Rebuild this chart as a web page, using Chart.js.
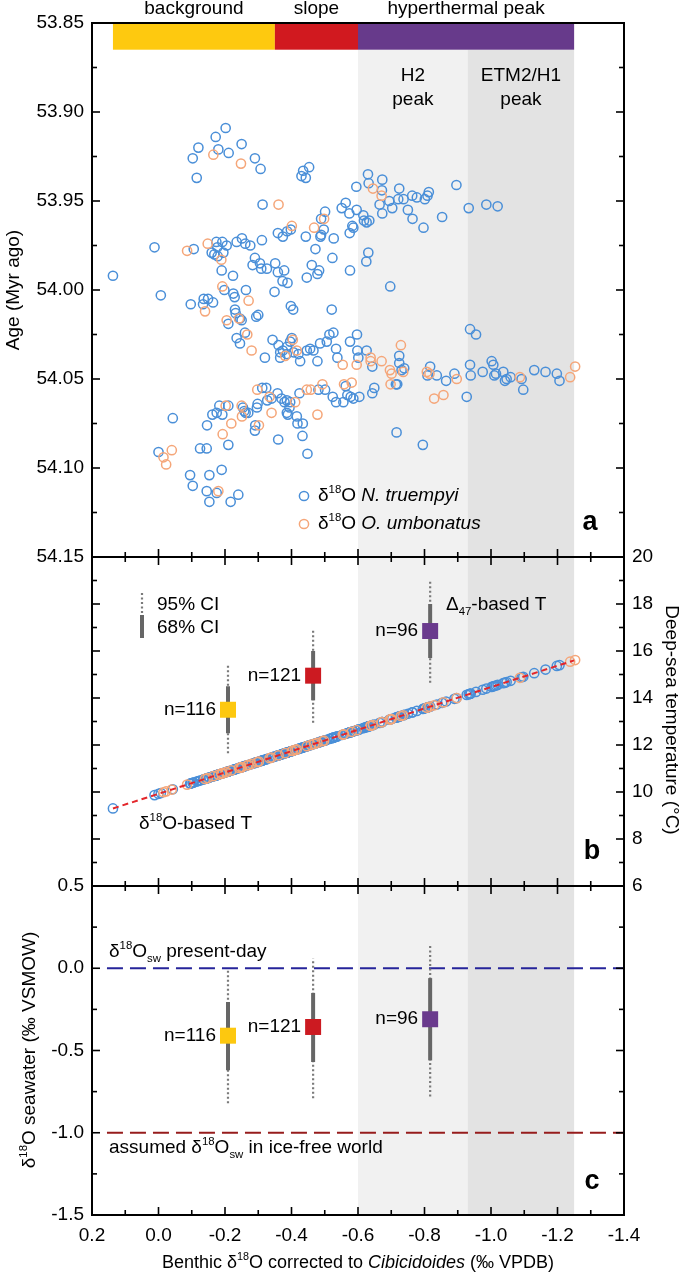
<!DOCTYPE html>
<html>
<head>
<meta charset="utf-8">
<script src="https://cdn.jsdelivr.net/npm/chart.js@4.4.1/dist/chart.umd.min.js"></script>
<style>
  html, body { margin: 0; padding: 0; background: #fff; }
</style>
</head>
<body>
<canvas id="myChart" width="685" height="1277"></canvas>
<script>
// ---- data ----
// [benthic d18O (per mil VPDB), age (Myr ago)]
const truempyi = [
  [-0.202,53.909],[-0.172,53.914],[-0.250,53.918],[-0.120,53.920],[-0.180,53.921],[-0.103,53.926],[-0.211,53.923],
  [-0.290,53.926],[-0.307,53.932],[-0.115,53.937],[-0.435,53.933],[-0.453,53.931],[-0.430,53.936],[-0.443,53.937],
  [-0.313,53.952],[0.012,53.976],[0.137,53.992],[-0.007,54.003],[-0.106,53.977],
  [-0.174,53.973],[-0.192,53.973],[-0.205,53.975],[-0.177,53.976],[-0.160,53.979],[-0.168,53.980],[-0.195,53.979],[-0.178,53.981],
  [-0.235,53.973],[-0.251,53.971],[-0.261,53.974],[-0.276,53.975],[-0.311,53.972],
  [-0.359,53.968],[-0.374,53.970],[-0.387,53.967],[-0.398,53.966],
  [-0.443,53.970],[-0.472,53.977],[-0.489,53.969],[-0.487,53.970],[-0.497,53.966],[-0.489,53.960],[-0.501,53.956],
  [-0.527,53.971],[-0.523,53.982],
  [-0.290,53.982],[-0.283,53.986],[-0.305,53.985],[-0.309,53.988],[-0.326,53.988],[-0.351,53.985],[-0.359,53.990],
  [-0.378,53.989],[-0.373,53.995],[-0.388,53.996],[-0.446,53.993],[-0.461,53.986],[-0.478,53.991],[-0.483,53.989],
  [-0.190,53.989],[-0.224,53.992],[-0.198,54.000],[-0.225,54.002],[-0.229,54.004],
  [-0.097,54.008],[-0.136,54.005],[-0.149,54.005],[-0.134,54.008],[-0.164,54.007],
  [-0.263,54.000],[-0.349,54.001],[-0.300,54.014],[-0.294,54.015],
  [-0.398,54.009],[-0.405,54.011],[-0.521,54.011],
  [-0.230,54.011],[-0.232,54.013],[-0.245,54.016],[-0.250,54.017],[-0.210,54.019],
  [-0.630,53.935],[-0.632,53.940],[-0.673,53.938],[-0.595,53.942],[-0.672,53.944],[-0.724,53.943],[-0.563,53.951],
  [-0.694,53.950],[-0.665,53.952],[-0.703,53.954],[-0.721,53.949],[-0.737,53.949],[-0.763,53.947],[-0.777,53.948],
  [-0.801,53.949],[-0.809,53.947],[-0.813,53.945],[-0.896,53.941],[-0.551,53.954],[-0.574,53.957],[-0.596,53.955],
  [-0.616,53.958],[-0.618,53.961],[-0.634,53.961],[-0.626,53.962],[-0.583,53.964],[-0.586,53.965],[-0.575,53.968],
  [-0.673,53.957],[-0.750,53.955],[-0.764,53.960],[-0.797,53.965],[-0.853,53.959],[-0.933,53.954],[-0.986,53.952],
  [-1.020,53.953],[-0.631,53.979],[-0.625,53.984],[-0.576,53.989],[-0.697,53.998],
  [-0.235,54.027],[-0.245,54.030],[-0.260,54.024],[-0.320,54.038],[-0.343,54.028],[-0.361,54.031],[-0.366,54.035],
  [-0.374,54.034],[-0.386,54.032],[-0.401,54.027],[-0.396,54.029],[-0.366,54.038],[-0.386,54.036],[-0.406,54.035],
  [-0.421,54.036],[-0.426,54.040],[-0.446,54.034],[-0.456,54.033],[-0.466,54.034],[-0.478,54.040],[-0.486,54.030],
  [-0.506,54.029],[-0.514,54.025],[-0.526,54.024],[-0.534,54.033],[-0.538,54.038],
  [-0.043,54.072],[0.000,54.091],[-0.095,54.104],[-0.103,54.110],[-0.153,54.104],[-0.190,54.101],[-0.145,54.113],
  [-0.153,54.119],[-0.175,54.114],[-0.217,54.119],[-0.240,54.115],[-0.125,54.089],[-0.145,54.089],[-0.146,54.076],
  [-0.162,54.070],[-0.175,54.069],[-0.192,54.070],[-0.183,54.065],[-0.210,54.065],[-0.210,54.087],[-0.254,54.066],
  [-0.258,54.068],[-0.262,54.069],[-0.270,54.069],[-0.291,54.076],[-0.290,54.079],[-0.296,54.066],[-0.298,54.064],
  [-0.312,54.055],[-0.324,54.055],[-0.327,54.062],[-0.340,54.061],[-0.358,54.058],[-0.360,54.084],[-0.370,54.061],
  [-0.379,54.063],[-0.386,54.069],[-0.389,54.070],[-0.386,54.062],[-0.396,54.063],[-0.394,54.066],[-0.416,54.071],
  [-0.418,54.075],[-0.434,54.075],[-0.433,54.082],[-0.448,54.092],[-0.424,54.058],[-0.481,54.056],[-0.501,54.056],
  [-0.524,54.060],[-0.534,54.063],
  [-0.937,54.022],[-0.955,54.025],[-0.597,54.025],[-0.576,54.029],[-0.626,54.034],[-0.598,54.034],[-0.601,54.038],
  [-0.643,54.043],[-0.724,54.037],[-0.724,54.041],[-0.731,54.045],[-0.739,54.044],[-0.817,54.043],[-0.809,54.048],
  [-0.837,54.048],[-0.865,54.051],[-0.890,54.047],[-0.937,54.042],[-0.939,54.048],[-0.975,54.046],[-1.002,54.040],
  [-1.007,54.042],[-1.010,54.048],[-1.015,54.047],[-1.037,54.046],[-1.042,54.051],[-1.047,54.050],[-1.059,54.049],
  [-1.092,54.050],[-1.097,54.056],[-1.130,54.045],[-1.164,54.046],[-1.198,54.047],[-1.206,54.051],
  [-0.563,54.054],[-0.568,54.059],[-0.556,54.063],[-0.578,54.060],[-0.586,54.061],[-0.604,54.060],[-0.643,54.058],
  [-0.649,54.055],[-0.714,54.053],[-0.718,54.053],[-0.716,54.080],[-0.795,54.087],[-0.927,54.060]
];
const umbonatus = [
  [-0.165,53.924],[-0.248,53.929],[-0.361,53.952],[-0.086,53.978],[-0.148,53.974],[-0.189,53.983],[-0.401,53.964],
  [-0.468,53.965],[-0.498,53.960],[-0.192,53.998],[-0.271,54.006],[-0.140,54.012],[-0.205,54.017],[-0.242,54.016],
  [-0.645,53.943],[-0.671,53.947],
  [-0.267,54.025],[-0.280,54.034],[-0.404,54.028],[-0.416,54.034],[-0.381,54.037],[-0.015,54.094],[-0.040,54.090],
  [-0.023,54.098],[-0.180,54.113],[-0.202,54.065],[-0.193,54.081],[-0.219,54.075],[-0.250,54.065],[-0.251,54.071],
  [-0.302,54.076],[-0.297,54.056],[-0.334,54.060],[-0.340,54.069],[-0.411,54.063],[-0.446,54.056],[-0.458,54.056],
  [-0.493,54.053],[-0.478,54.070],
  [-0.554,54.042],[-0.596,54.042],[-0.638,54.038],[-0.638,54.040],[-0.671,54.040],[-0.729,54.031],[-0.696,54.045],
  [-0.701,54.047],[-0.736,54.046],[-0.807,54.046],[-0.815,54.047],[-0.897,54.050],[-1.087,54.049],[-1.238,54.049],
  [-1.253,54.043],[-0.558,54.053],[-0.581,54.052],[-0.698,54.053],[-0.829,54.061],[-0.857,54.059]
];

// d18O-based temperature line (ends)
const calibD18O = [0.137, -1.25];
const calibTemp = [9.3, 15.6];

// clumped isotope groups
const groupD18O = [-0.209, -0.465, -0.817];
const groupN = ['n=116', 'n=121', 'n=96'];
const groupColors = ['#fdc80f', '#cc1a21', '#6a3a8d'];
const tempMid = [13.5, 14.95, 16.85];
const temp68 = [[12.5, 14.5], [13.9, 16.0], [15.7, 18.0]];
const temp95 = [[11.65, 15.4], [12.95, 16.95], [14.65, 19.05]];
const swMid = [-0.41, -0.357, -0.31];
const sw68 = [[-0.62, -0.205], [-0.57, -0.15], [-0.56, -0.06]];
const sw95 = [[-0.82, -0.01], [-0.79, 0.06], [-0.78, 0.14]];

// reference seawater values
const swLines = [0.0, -1.0];
const swLineColors = ['#26249a', '#961c1c'];
const swLineStart = 0.155;

// phases and shaded intervals
const phaseNames = ['background', 'slope', 'hyperthermal peak'];
const phaseFrom = [0.137, -0.35, -0.6];
const phaseTo = [-0.35, -0.6, -1.25];
const phaseColors = ['#fec90f', '#d1191f', '#673a8b'];
const bandFrom = [-0.6, -0.93];
const bandTo = [-0.93, -1.25];
const bandNames = [['H2', 'peak'], ['ETM2/H1', 'peak']];
const bandColors = ['#f1f1f1', '#e3e3e3'];

const ageTicks = [53.85, 53.90, 53.95, 54.00, 54.05, 54.10, 54.15];
const tempTicks = [6, 8, 10, 12, 14, 16, 18, 20];
const swTicks = [0.5, 0.0, -0.5, -1.0, -1.5];
const xTicks = [0.2, 0.0, -0.2, -0.4, -0.6, -0.8, -1.0, -1.2, -1.4];

// ---- layout ----
const FONT = '"Liberation Sans", Arial, sans-serif';
const plotTop = 23, plotBottom = 1215, aBottom = 557, bBottom = 886;
const plotLeft = 92, plotRight = 624;

const ageMax = 53.85 + 0.30 * (plotBottom - plotTop) / (aBottom - plotTop);
const tPer = 14 / (bBottom - aBottom);
const tMax = 20 + (aBottom - plotTop) * tPer;
const tMin = 6 - (plotBottom - bBottom) * tPer;
const cMax = 0.5 + (bBottom - plotTop) * 2 / (plotBottom - bBottom);
const slope = (calibTemp[1] - calibTemp[0]) / (calibD18O[1] - calibD18O[0]);
const bMin = calibD18O[0] + (tMax - calibTemp[0]) / slope;
const bMax = calibD18O[0] + (tMin - calibTemp[0]) / slope;

const blue = '#4a8fd8';
const orange = '#f5a679';

function circles(arr, color, yAxisID, sameY, order) {
  return {
    data: arr.map(p => ({x: p[0], y: sameY ? p[0] : p[1]})),
    yAxisID, order,
    showLine: false,
    pointRadius: 4.6,
    pointBorderWidth: 1.5,
    pointBorderColor: color,
    pointBackgroundColor: 'rgba(0,0,0,0)'
  };
}
function seg(x1, y1, x2, y2, yAxisID, color, width, dash, order) {
  return {
    data: [{x: x1, y: y1}, {x: x2, y: y2}],
    yAxisID, order,
    showLine: true,
    pointRadius: 0,
    borderColor: color,
    borderWidth: width,
    borderDash: dash,
    borderCapStyle: 'butt'
  };
}

const datasets = [
  circles(truempyi, blue, 'ya', false, 10),
  circles(umbonatus, orange, 'ya', false, 9),
  circles(truempyi, blue, 'yb', true, 10),
  circles(umbonatus, orange, 'yb', true, 9),
  seg(calibD18O[0], calibTemp[0], calibD18O[1], calibTemp[1], 'yt', '#e3262b', 2, [6, 4], 8)
];
swLines.forEach((v, i) => {
  datasets.push(seg(swLineStart, v, -1.4, v, 'yc', swLineColors[i], 2, [16, 7], 7));
});
groupD18O.forEach((g, i) => {
  datasets.push(seg(g, temp95[i][0], g, temp95[i][1], 'yt', '#7a7a7a', 2.2, [2, 2.5], 5));
  datasets.push(seg(g, temp68[i][0], g, temp68[i][1], 'yt', '#666', 4, [], 4));
  datasets.push(seg(g, sw95[i][0], g, sw95[i][1], 'yc', '#7a7a7a', 2.2, [2, 2.5], 5));
  datasets.push(seg(g, sw68[i][0], g, sw68[i][1], 'yc', '#666', 4, [], 4));
  [['yt', tempMid[i]], ['yc', swMid[i]]].forEach(([ax, v]) => {
    datasets.push({
      data: [{x: g, y: v}], yAxisID: ax, order: 3, showLine: false,
      pointStyle: 'rect', pointRadius: 11.3, pointBorderWidth: 0,
      pointBackgroundColor: groupColors[i], pointBorderColor: groupColors[i]
    });
  });
});

// ---- text helpers ----
function drawRuns(ctx, x, y, parts, align, size) {
  let w = 0;
  const items = parts.map(p => {
    const t = p[0], o = p[1] || {};
    const fs = o.sup || o.sub ? size * 0.6 : (o.size || size);
    const font = (o.it ? 'italic ' : '') + (o.bold ? 'bold ' : '') + fs + 'px ' + FONT;
    ctx.font = font;
    const tw = ctx.measureText(t).width;
    w += tw;
    return {t, font, tw, dy: o.sup ? -size * 0.33 : o.sub ? size * 0.38 : 0};
  });
  let cx = align === 'center' ? x - w / 2 : align === 'right' ? x - w : x;
  ctx.textAlign = 'left';
  ctx.textBaseline = 'middle';
  items.forEach(it => {
    ctx.font = it.font;
    ctx.fillText(it.t, cx, y + it.dy);
    cx += it.tw;
  });
}
function rotRuns(ctx, x, y, angle, parts, size) {
  ctx.save();
  ctx.translate(x, y);
  ctx.rotate(angle);
  drawRuns(ctx, 0, 0, parts, 'center', size);
  ctx.restore();
}
function line(ctx, x1, y1, x2, y2) {
  ctx.beginPath();
  ctx.moveTo(x1, y1);
  ctx.lineTo(x2, y2);
  ctx.stroke();
}

const panelPlugin = {
  id: 'panels',
  beforeDatasetsDraw(chart) {
    const {ctx, chartArea, scales} = chart;
    const X = scales.x, A = scales.ya;
    const barTop = A.getPixelForValue(53.85), barBot = A.getPixelForValue(53.865);
    ctx.save();
    bandFrom.forEach((f, i) => {
      const x1 = X.getPixelForValue(f), x2 = X.getPixelForValue(bandTo[i]);
      ctx.fillStyle = bandColors[i];
      ctx.fillRect(x1, barBot, x2 - x1, chartArea.bottom - barBot);
    });
    phaseFrom.forEach((f, i) => {
      const x1 = X.getPixelForValue(f), x2 = X.getPixelForValue(phaseTo[i]);
      ctx.fillStyle = phaseColors[i];
      ctx.fillRect(x1, barTop, x2 - x1, barBot - barTop);
    });
    ctx.restore();
  },
  afterDatasetsDraw(chart) {
    const {ctx, chartArea, scales} = chart;
    const X = scales.x, A = scales.ya, T = scales.yt, C = scales.yc;
    const L = chartArea.left, R = chartArea.right;
    ctx.save();
    ctx.strokeStyle = '#000';
    ctx.fillStyle = '#000';

    // ticks
    ctx.lineWidth = 1.6;
    const yt = (scale, lo, step, n) => {
      for (let i = 0; i <= n; i++) {
        const y = scale.getPixelForValue(lo + i * step);
        const len = i % 2 === 0 ? 8 : 5;
        line(ctx, L, y, L + len, y);
        line(ctx, R, y, R - len, y);
      }
    };
    yt(A, 53.85, 0.025, 12);
    yt(T, 6, 1, 14);
    yt(C, -1.5, 0.25, 8);
    const rows = [[A.getPixelForValue(54.15), -1], [T.getPixelForValue(20), 1],
                  [T.getPixelForValue(6), -1], [C.getPixelForValue(0.5), 1], [C.getPixelForValue(-1.5), -1]];
    for (let i = 0; i <= 16; i++) {
      const x = X.getPixelForValue(-1.4 + i * 0.1);
      const len = i % 2 === 0 ? 8 : 5;
      rows.forEach(([y, d]) => line(ctx, x, y, x, y + d * len));
    }

    // frame
    ctx.lineWidth = 2;
    ctx.strokeRect(L, chartArea.top, R - L, chartArea.bottom - chartArea.top);
    line(ctx, L, A.getPixelForValue(54.15), R, A.getPixelForValue(54.15));
    line(ctx, L, T.getPixelForValue(6), R, T.getPixelForValue(6));

    // tick labels
    ctx.font = '19px ' + FONT;
    ctx.textBaseline = 'middle';
    ctx.textAlign = 'right';
    ageTicks.forEach(v => ctx.fillText(v.toFixed(2), 84, A.getPixelForValue(v)));
    swTicks.forEach(v => ctx.fillText(v.toFixed(1), 84, C.getPixelForValue(v)));
    ctx.textAlign = 'left';
    tempTicks.forEach(v => ctx.fillText(String(v), 632, T.getPixelForValue(v)));
    ctx.textAlign = 'center';
    xTicks.forEach(v => ctx.fillText((Math.round(v * 10) / 10).toFixed(1), X.getPixelForValue(v), 1236));

    // axis titles
    const S = 19;
    rotRuns(ctx, 14, 290, -Math.PI / 2, [['Age (Myr ago)']], S);
    rotRuns(ctx, 30, 1050, -Math.PI / 2, [['δ'], ['18', {sup: 1}], ['O seawater (‰ VSMOW)']], S);
    rotRuns(ctx, 671, 720, Math.PI / 2, [['Deep-sea temperature (°C)']], S);
    drawRuns(ctx, (L + R) / 2, 1263, [['Benthic δ'], ['18', {sup: 1}], ['O corrected to '], ['Cibicidoides', {it: 1}], [' (‰ VPDB)']], 'center', 18);

    // phase labels and shaded-interval labels
    phaseNames.forEach((n, i) => {
      const xm = (X.getPixelForValue(phaseFrom[i]) + X.getPixelForValue(phaseTo[i])) / 2;
      drawRuns(ctx, xm, 9, [[n]], 'center', S);
    });
    bandNames.forEach((n, i) => {
      const xm = (X.getPixelForValue(bandFrom[i]) + X.getPixelForValue(bandTo[i])) / 2;
      drawRuns(ctx, xm, 76, [[n[0]]], 'center', S);
      drawRuns(ctx, xm, 100, [[n[1]]], 'center', S);
    });

    // legend panel a
    ctx.lineWidth = 1.5;
    [[blue, 496, 'N. truempyi'], [orange, 524, 'O. umbonatus']].forEach(([c, y, sp]) => {
      ctx.strokeStyle = c;
      ctx.beginPath();
      ctx.arc(304, y, 4.6, 0, Math.PI * 2);
      ctx.stroke();
      ctx.fillStyle = '#000';
      drawRuns(ctx, 318, y, [['δ'], ['18', {sup: 1}], ['O '], [sp, {it: 1}]], 'left', S);
    });

    // panel letters
    drawRuns(ctx, 590, 523, [['a', {bold: 1}]], 'center', 27);
    drawRuns(ctx, 592, 852, [['b', {bold: 1}]], 'center', 27);
    drawRuns(ctx, 592, 1182, [['c', {bold: 1}]], 'center', 27);

    // CI legend
    ctx.strokeStyle = '#7a7a7a';
    ctx.lineWidth = 2.2;
    ctx.setLineDash([2, 2.5]);
    line(ctx, 142, 593, 142, 613);
    ctx.setLineDash([]);
    ctx.strokeStyle = '#666';
    ctx.lineWidth = 4;
    line(ctx, 142, 615, 142, 638);
    drawRuns(ctx, 157, 605, [['95% CI']], 'left', S);
    drawRuns(ctx, 157, 628, [['68% CI']], 'left', S);

    // group labels
    groupD18O.forEach((g, i) => {
      const x = X.getPixelForValue(g) - 12;
      drawRuns(ctx, x, T.getPixelForValue(tempMid[i]), [[groupN[i]]], 'right', S);
      drawRuns(ctx, x, C.getPixelForValue(swMid[i]), [[groupN[i]]], 'right', S);
    });
    drawRuns(ctx, 446, 605, [['Δ'], ['47', {sub: 1}], ['-based T']], 'left', S);
    drawRuns(ctx, 139, 824, [['δ'], ['18', {sup: 1}], ['O-based T']], 'left', S);
    drawRuns(ctx, 109, 952, [['δ'], ['18', {sup: 1}], ['O'], ['sw', {sub: 1}], [' present-day']], 'left', S);
    drawRuns(ctx, 109, 1148, [['assumed δ'], ['18', {sup: 1}], ['O'], ['sw', {sub: 1}], [' in ice-free world']], 'left', S);
    ctx.restore();
  }
};

const ctx = document.getElementById('myChart');

new Chart(ctx, {
  type: 'scatter',
  data: { datasets },
  options: {
    responsive: false,
    devicePixelRatio: 1,
    animation: false,
    layout: { padding: { left: plotLeft, right: 685 - plotRight, top: plotTop, bottom: 1277 - plotBottom } },
    plugins: { legend: { display: false }, tooltip: { enabled: false } },
    scales: {
      x: { type: 'linear', display: false, reverse: true, min: -1.4, max: 0.2 },
      ya: { type: 'linear', display: false, reverse: true, min: 53.85, max: ageMax },
      yt: { type: 'linear', display: false, min: tMin, max: tMax },
      yb: { type: 'linear', display: false, reverse: true, min: bMin, max: bMax },
      yc: { type: 'linear', display: false, min: -1.5, max: cMax }
    }
  },
  plugins: [panelPlugin]
});
</script>
</body>
</html>
